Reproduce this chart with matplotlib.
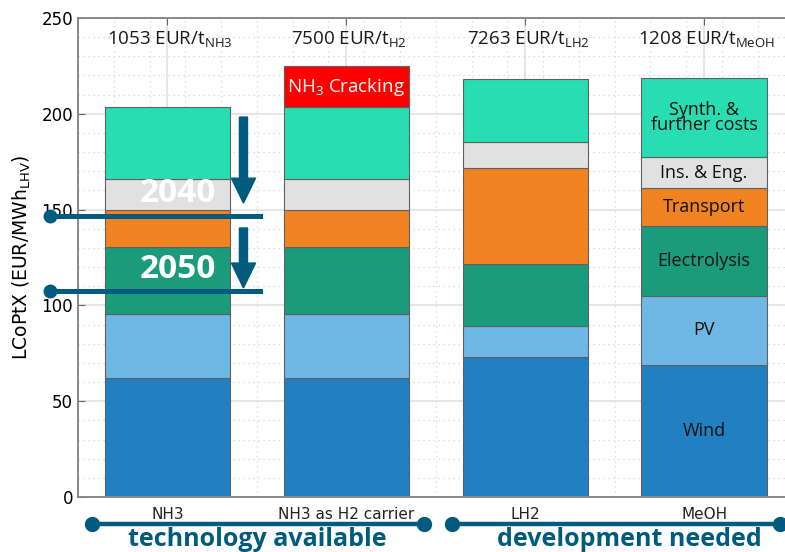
import matplotlib.pyplot as plt
import numpy as np
from matplotlib.ticker import MultipleLocator
import matplotlib.transforms as mtransforms

# data
categories = ["NH3", "NH3 as H2 carrier", "LH2", "MeOH"]
components = ["Wind", "PV", "Electrolysis", "Transport", "Ins. & Eng.", "Synth. &\nfurther costs"]
wind = [62.0, 62.0, 73.2, 68.9]
pv = [33.7, 33.7, 15.9, 36.2]
electrolysis = [34.8, 34.8, 32.5, 36.5]
transport = [19.3, 19.3, 49.9, 19.5]
ins_eng = [16.0, 16.0, 13.9, 16.4]
synth = [37.6, 37.6, 32.6, 41.0]
cracking = [0, 21.6, 0, 0]
top_labels = [r"1053 EUR/t$_{\mathregular{NH3}}$", r"7500 EUR/t$_{\mathregular{H2}}$",
              r"7263 EUR/t$_{\mathregular{LH2}}$", r"1208 EUR/t$_{\mathregular{MeOH}}$"]
level_2040 = 146.5
level_2050 = 107.3

colors = ["#2080c1", "#6fb7e5", "#1a9b7b", "#f28323", "#e0e1e0", "#27ddb1"]
crack_color = "#ff0000"
teal = "#005b7f"
label_font = ["Open Sans", "DejaVu Sans"]

fig = plt.figure(figsize=(7.85, 5.52), dpi=100)
ax = fig.add_axes([78 / 785, 1 - 497 / 552, 715.5 / 785, 479 / 552])

x = np.arange(len(categories))
series = [wind, pv, electrolysis, transport, ins_eng, synth]
bottom = np.zeros(len(categories))
for vals, c in zip(series, colors):
    ax.bar(x, vals, 0.7, bottom=bottom, color=c, edgecolor="#606060", linewidth=0.8, zorder=2)
    bottom = bottom + np.array(vals)
crack = np.array(cracking)
mask = crack > 0
ax.bar(x[mask], crack[mask], 0.7, bottom=bottom[mask], color=crack_color,
       edgecolor="#606060", linewidth=0.8, zorder=2)

# segment labels for MeOH bar
i = 3
b = 0
for vals, name in zip(series, components):
    ax.text(i, b + vals[i] / 2, name, ha="center", va="center", fontsize=13,
            family=label_font, color="#111111", linespacing=0.8, zorder=3)
    b += vals[i]
ax.text(1, bottom[1] + crack[1] / 2, r"NH$_{\mathregular{3}}$ Cracking", ha="center", va="center",
        fontsize=13.5, family=label_font, color="white", zorder=3)

for i, t in enumerate(top_labels):
    ax.text(i + 0.015, 238.5, t, ha="center", va="center", fontsize=13.5, family=label_font,
            color="#1a1a1a")

# 2040 / 2050 annotations
ax.text(0.06, 158.6, "2040", ha="center", va="center", fontsize=24, fontweight="bold",
        family=label_font, color="white", zorder=4)
ax.text(0.06, 118.5, "2050", ha="center", va="center", fontsize=24, fontweight="bold",
        family=label_font, color="white", zorder=4)
for y0, y1 in [(198.3, 153.4), (140.4, 109.1)]:
    ax.arrow(0.425, y0, 0, y1 - y0, width=0.045, head_width=0.135, head_length=13,
             length_includes_head=True, color=teal, zorder=5)
for lev in [level_2040, level_2050]:
    ax.plot([-0.654, 0.52], [lev, lev], color=teal, lw=3.6, clip_on=False, zorder=5)
    ax.plot([-0.654], [lev], "o", color=teal, ms=9, clip_on=False, zorder=5)

ax.set_xlim(-0.5, 3.5)
ax.set_ylim(0, 250)
ax.set_xticks(x)
ax.set_xticklabels(categories, color="#222222")
ax.yaxis.set_major_locator(MultipleLocator(50))
ax.yaxis.set_minor_locator(MultipleLocator(10))
ax.set_xticks(np.arange(-0.5, 3.6, 0.2), minor=True)
ax.tick_params(axis="both", which="major", direction="in", length=5, color="#666666",
               top=True, labelsize=12)
ax.tick_params(axis="x", labelsize=11, pad=7)
ax.tick_params(which="minor", length=0)
ax.grid(which="major", color="#e2e2e2", lw=1.2, zorder=0)
ax.grid(which="minor", color="#d4d4d4", lw=0.9, ls=(0, (1, 3)), zorder=0)
ax.set_axisbelow(True)
for s in ax.spines.values():
    s.set_color("#888888")
    s.set_linewidth(1.4)
ax.set_ylabel(r"LCoPtX (EUR/MWh$_{\mathregular{LHV}}$)", fontsize=13.5, labelpad=6)

# bottom group brackets
trans = mtransforms.blended_transform_factory(ax.transData, fig.transFigure)
yb = 1 - 524 / 552
for (xa, xb), txt, xc in [((-0.419, 1.436), "technology available", 0.5),
                          ((1.592, 3.425), "development needed", 2.58)]:
    ax.plot([xa, xb], [yb, yb], color=teal, lw=3.2, transform=trans, clip_on=False)
    ax.plot([xa, xb], [yb, yb], "o", color=teal, ms=10, transform=trans, clip_on=False)
    ax.text(xc, 1 - 539 / 552, txt, transform=trans, ha="center", va="center", fontsize=18,
            fontweight="bold", family=label_font, color=teal)

fig.savefig("out.png", dpi=100)
